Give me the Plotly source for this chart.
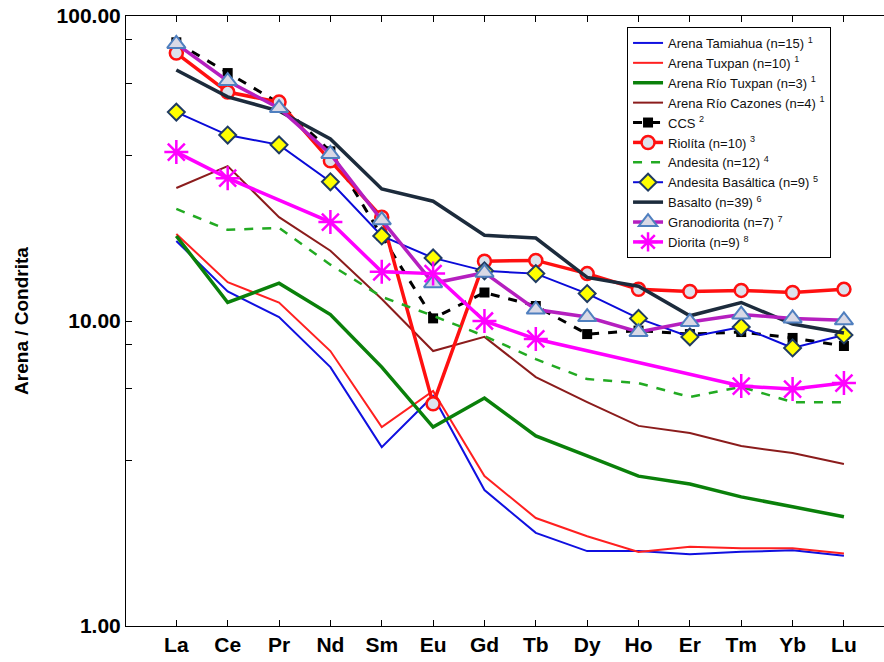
import plotly.graph_objects as go

elements = ["La", "Ce", "Pr", "Nd", "Sm", "Eu", "Gd", "Tb", "Dy", "Ho", "Er", "Tm", "Yb", "Lu"]

tamiahua = [18.3, 12.5, 10.3, 7.06, 3.86, 5.68, 2.79, 2.02, 1.76, 1.76, 1.72, 1.75, 1.77, 1.70]
tuxpan = [19.3, 13.4, 11.5, 7.97, 4.49, 5.9, 3.10, 2.26, 1.97, 1.75, 1.82, 1.80, 1.80, 1.73]
rio_tuxpan = [19.0, 11.5, 13.3, 10.5, 7.06, 4.49, 5.59, 4.20, 3.61, 3.10, 2.92, 2.65, 2.46, 2.28]
rio_cazones = [27.3, 32.2, 21.9, 17.0, 11.8, 7.97, 8.87, 6.55, 5.42, 4.53, 4.29, 3.89, 3.69, 3.40]
ccs = [82, 65, 51.8, 36, 19.0, 10.2, 12.4, 11.2, 9.06, 9.3, 9.06, 9.2, 8.8, 8.28]
riolita = [75.6, 56.3, 52.2, 33.5, 21.9, 5.35, 15.7, 15.8, 14.3, 12.7, 12.5, 12.6, 12.4, 12.7]
andesita = [23.3, 19.9, 20.2, 15.3, 12.0, 10.4, 8.93, 7.5, 6.45, 6.26, 5.63, 6.08, 5.42, 5.42]
andesita_bas = [48.4, 40.7, 37.8, 28.6, 19.0, 16.1, 14.6, 14.3, 12.3, 10.2, 8.87, 9.56, 8.16, 9.0]
basalto = [66.5, 54.3, 48.8, 39.5, 27.1, 24.7, 19.1, 18.7, 13.9, 13.0, 10.4, 11.5, 9.77, 9.13]
granodiorita = [81, 61.2, 49.9, 35.3, 21.4, 13.3, 14.4, 10.9, 10.3, 9.2, 9.93, 10.5, 10.2, 10.05]
diorita = [35.8, 29.4, None, 21.1, 14.5, 14.3, 10.0, 8.73, None, None, None, 6.12, 5.98, 6.26]

FONT = "Arial, Liberation Sans, sans-serif"

fig = go.Figure()

def add_line(name, y, color, width, dash="solid"):
    fig.add_trace(go.Scatter(x=elements, y=y, name=name, mode="lines",
                             line=dict(color=color, width=width, dash=dash)))

add_line("Arena Tamiahua (n=15) <sup>1</sup>", tamiahua, "#1010e0", 2)
add_line("Arena Tuxpan (n=10) <sup>1</sup>", tuxpan, "#ff2020", 2)
add_line("Arena Río Tuxpan (n=3) <sup>1</sup>", rio_tuxpan, "#0a800a", 3.5)
add_line("Arena Río Cazones (n=4) <sup>1</sup>", rio_cazones, "#8b1c1c", 2)

fig.add_trace(go.Scatter(x=elements, y=ccs, name="CCS <sup>2</sup>", mode="lines+markers",
                         line=dict(color="black", width=3, dash="dash"),
                         marker=dict(symbol="square", size=10, color="black")))
fig.add_trace(go.Scatter(x=elements, y=riolita, name="Riolíta (n=10) <sup>3</sup>", mode="lines+markers",
                         line=dict(color="#ff1010", width=3.5),
                         marker=dict(symbol="circle", size=13, color="#dde2ec",
                                     line=dict(color="#ff1010", width=2.5))))
add_line("Andesita (n=12) <sup>4</sup>", andesita, "#22aa22", 2.5, "dash")
fig.add_trace(go.Scatter(x=elements, y=andesita_bas, name="Andesita Basáltica (n=9) <sup>5</sup>",
                         mode="lines+markers",
                         line=dict(color="#0a0ad8", width=2),
                         marker=dict(symbol="diamond", size=13, color="#ffff00",
                                     line=dict(color="#1f3b63", width=2))))
add_line("Basalto (n=39) <sup>6</sup>", basalto, "#1c2b3c", 3.5)
fig.add_trace(go.Scatter(x=elements, y=granodiorita, name="Granodiorita (n=7) <sup>7</sup>",
                         mode="lines+markers",
                         line=dict(color="#b51fbf", width=3.5),
                         marker=dict(symbol="triangle-up", size=16, color="#d9d9e6",
                                     line=dict(color="#4f7fbf", width=2))))
fig.add_trace(go.Scatter(x=elements, y=diorita, name="Diorita (n=9) <sup>8</sup>",
                         mode="lines+markers", connectgaps=True,
                         line=dict(color="#ff00ff", width=3.5),
                         marker=dict(symbol="asterisk-open", size=20, color="#ff00ff",
                                     line=dict(color="#ff00ff", width=2.5))))

fig.update_layout(
    width=884, height=662,
    margin=dict(l=126, r=0, t=16, b=36),
    paper_bgcolor="white", plot_bgcolor="white",
    font=dict(family=FONT, color="black"),
    showlegend=True,
    legend=dict(x=0.661, y=0.982, xanchor="left", yanchor="top",
                bgcolor="white", bordercolor="black", borderwidth=1,
                font=dict(size=13, color="#111111", family=FONT),
                tracegroupgap=0, itemwidth=30),
)

fig.update_xaxes(
    type="category", range=[-0.98, 13.78],
    showline=True, linecolor="black", linewidth=1, mirror="ticks",
    ticks="inside", ticklen=6, tickcolor="black",
    showgrid=False, zeroline=False,
    tickfont=dict(size=21, family=FONT, color="black", weight="bold"),
)
fig.update_yaxes(
    type="log", range=[0, 2],
    tickvals=[1, 10, 100], ticktext=["1.00", "10.00", "100.00"],
    showline=True, linecolor="black", linewidth=1, mirror=False,
    ticks="inside", ticklen=6, tickcolor="black",
    minor=dict(tickvals=[3.5, 6, 8.4, 35, 60, 84], ticks="inside", ticklen=6, tickcolor="black"),
    showgrid=False, zeroline=False,
    tickfont=dict(size=21, family=FONT, color="black", weight="bold"),
    title=dict(text="Arena / Condrita", standoff=22,
               font=dict(size=19, family=FONT, color="black", weight="bold")),
)

fig.write_html("out.html")
